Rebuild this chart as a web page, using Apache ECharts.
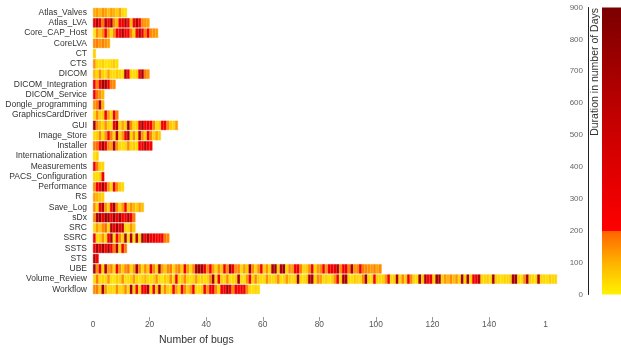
<!DOCTYPE html>
<html>
<head>
<meta charset="utf-8">
<script src="https://cdn.jsdelivr.net/npm/echarts@6/dist/echarts.min.js"></script>
<style>
  html, body { margin: 0; padding: 0; background: #fff; }
  #chart { width: 621px; height: 347px; }
</style>
</head>
<body>
<div id="chart"></div>
<script>
// components, top to bottom
const categories = [
  'Atlas_Valves', 'Atlas_LVA', 'Core_CAP_Host', 'CoreLVA', 'CT', 'CTS', 'DICOM',
  'DICOM_Integration', 'DICOM_Service', 'Dongle_programming', 'GraphicsCardDriver',
  'GUI', 'Image_Store', 'Installer', 'Internationalization', 'Measurements',
  'PACS_Configuration', 'Performance', 'RS', 'Save_Log', 'sDx', 'SRC', 'SSRC',
  'SSTS', 'STS', 'UBE', 'Volume_Review', 'Workflow'
];

// duration (days) of every bug, in the order they are drawn
const atlasValves = [110, 130, 90, 140, 120, 80, 130, 100, 60, 120, 40, 30];
const atlasLVA = [300, 650, 280, 170, 600, 260, 700, 150, 90, 240, 300, 620, 250, 80, 220, 640, 270, 160, 140, 120];
const coreCAPHost = [20, 150, 80, 140, 260, 130, 40, 150, 300, 250, 650, 280, 230, 160, 50, 260, 620, 300, 170, 240, 150, 140, 130];
const coreLVA = [150, 170, 130, 160, 140, 120];
const ct = [60];
const cts = [140, 40, 30, 50, 20, 30, 40, 60, 30];
const dicom = [90, 40, 150, 50, 30, 120, 40, 30, 60, 40, 30, 650, 260, 40, 30, 50, 280, 700, 170, 130];
const dicomIntegration = [280, 160, 240, 700, 650, 300, 170, 150];
const dicomService = [280, 180, 140, 90];
const dongleProgramming = [140, 170, 600, 90];
const graphicsCardDriver = [40, 150, 50, 60, 260, 130, 40, 280, 160];
const gui = [700, 150, 90, 40, 140, 60, 30, 280, 650, 40, 120, 60, 720, 150, 40, 50, 300, 680, 260, 300, 250, 160, 40, 60, 280, 260, 150, 60, 50, 130];
const imageStore = [40, 50, 150, 30, 140, 280, 160, 40, 620, 50, 130, 260, 680, 40, 150, 30, 650, 140, 50, 270, 160, 40, 120, 60];
const installer = [170, 190, 260, 700, 300, 150, 130, 650, 140, 40, 30, 50, 150, 40, 60, 30, 280, 300, 620, 260, 250];
const internationalization = [30, 50];
const measurements = [280, 170, 50, 40];
const pacsConfiguration = [40, 30, 60, 260];
const performance = [150, 280, 300, 700, 260, 140, 40, 280, 150, 60, 40];
const rs = [120, 100, 70, 50];
const saveLog = [150, 40, 260, 620, 140, 50, 280, 700, 160, 40, 130, 270, 60, 140, 90, 50, 120, 80];
const sdx = [160, 700, 680, 300, 720, 650, 290, 700, 320, 680, 300, 270, 650, 250, 170];
const src = [40, 130, 60, 150, 190, 40, 650, 280, 700, 300, 620, 50, 40, 140, 60];
const ssrc = [260, 40, 50, 140, 30, 280, 680, 40, 260, 150, 50, 700, 40, 650, 30, 620, 40, 700, 300, 650, 280, 320, 260, 300, 250, 170, 150];
const ssts = [280, 680, 300, 700, 260, 650, 290, 170, 620, 40, 280, 170];
const sts = [650, 300];
const ube = [
  700, 150, 280, 40, 650, 130, 160, 40, 270, 140,
  60, 150, 180, 40, 130, 720, 160, 40, 150, 60,
  300, 150, 40, 680, 130, 60, 150, 170, 40, 140,
  160, 50, 280, 130, 40, 150, 700, 720, 680, 300,
  150, 260, 130, 40, 150, 60, 290, 150, 700, 280,
  140, 160, 40, 130, 60, 700, 150, 40, 140, 280,
  50, 140, 40, 680, 700, 60, 650, 720, 40, 150,
  130, 300, 280, 160, 40, 60, 150, 290, 40, 130,
  150, 280, 140, 300, 260, 320, 650, 150, 280, 300,
  160, 680, 140, 150, 280, 170, 150, 140, 130, 160, 120, 150
];
const volumeReview = [
  40, 170, 30, 50, 40, 140, 30, 20, 60, 40,
  150, 30, 40, 50, 130, 40, 30, 60, 90, 40,
  30, 50, 140, 40, 20, 60, 40, 150, 30, 280,
  40, 60, 150, 40, 30, 50, 130, 40, 60, 30,
  50, 150, 700, 40, 280, 60, 40, 150, 30, 40,
  60, 680, 40, 30, 130, 260, 40, 150, 60, 40,
  30, 140, 50, 40, 60, 150, 30, 40, 130, 60,
  40, 50, 720, 40, 30, 60, 650, 700, 40, 150,
  130, 40, 60, 30, 50, 140, 280, 40, 700, 650,
  40, 30, 60, 50, 40, 150, 720, 40, 30, 280,
  60, 40, 50, 130, 290, 40, 60, 680, 40, 150,
  50, 300, 150, 40, 30, 700, 60, 650, 280, 300,
  40, 700, 680, 60, 130, 90, 150, 80, 140, 40,
  700, 50, 680, 40, 280, 300, 620, 50, 40, 60,
  30, 700, 60, 40, 30, 50, 40, 60, 680, 700,
  40, 30, 150, 720, 60, 40, 30, 650, 50, 40,
  30, 60, 40, 50
];
const workflow = [
  150, 170, 60, 700, 130, 40, 50, 30, 150, 40,
  60, 150, 40, 700, 60, 280, 40, 300, 260, 650,
  40, 300, 60, 680, 40, 150, 60, 40, 280, 130,
  40, 280, 150, 60, 130, 300, 40, 30, 60, 280,
  140, 270, 300, 150, 40, 290, 280, 700, 300, 150,
  280, 260, 300, 290, 150, 40, 30, 50, 40
];

const bugDurations = [
  atlasValves, atlasLVA, coreCAPHost, coreLVA, ct, cts, dicom, dicomIntegration,
  dicomService, dongleProgramming, graphicsCardDriver, gui, imageStore, installer,
  internationalization, measurements, pacsConfiguration, performance, rs, saveLog,
  sdx, src, ssrc, ssts, sts, ube, volumeReview, workflow
];

const xTickValues = [0, 20, 40, 60, 80, 100, 120, 140, 160];
const xTickLabels = ['0', '20', '40', '60', '80', '100', '120', '140', '1'];
const durationMax = 900;

// colour scale: yellow -> orange up to 200 days, then red -> dark red
const colorStops = [
  [0, [255, 242, 0]],
  [100, [255, 178, 0]],
  [199.99, [255, 98, 0]],
  [200, [255, 0, 0]],
  [550, [196, 0, 0]],
  [900, [122, 0, 0]]
];
function toRgb(c) { return 'rgb(' + c.join(',') + ')'; }
function durationColor(d) {
  for (let i = 1; i < colorStops.length; i++) {
    const [v0, c0] = colorStops[i - 1];
    const [v1, c1] = colorStops[i];
    if (d <= v1) {
      const t = (d - v0) / (v1 - v0);
      return toRgb(c0.map((c, j) => Math.round(c + (c1[j] - c) * t)));
    }
  }
  return toRgb(colorStops[colorStops.length - 1][1]);
}

const chart = echarts.init(document.getElementById('chart'));

const maxBugs = Math.max(...bugDurations.map(l => l.length));
const bugSeries = [];
for (let k = 0; k < maxBugs; k++) {
  bugSeries.push({
    type: 'bar',
    stack: 'bugs',
    barCategoryGap: '9%',
    silent: true,
    clip: false,
    data: bugDurations.map(list => {
      if (k >= list.length) return '-';
      const col = durationColor(list[k]);
      return { value: 1, itemStyle: { color: col, borderColor: col, borderWidth: 0.4 } };
    })
  });
}

const option = {
  animation: false,
  grid: [
    { left: 93, top: 7.5, width: 464, height: 287 },
    { left: 602, top: 7.5, right: 0, height: 287 }
  ],
  xAxis: [
    {
      type: 'value',
      min: 0,
      max: 164,
      offset: 22.5,
      axisLine: { show: false },
      axisTick: { show: true, length: 4, customValues: [20, 40, 60, 80, 100, 120, 140], lineStyle: { color: '#999' } },
      axisLabel: {
        customValues: xTickValues,
        formatter: v => xTickLabels[xTickValues.indexOf(v)],
        color: '#555', fontSize: 8.4, fontFamily: 'Liberation Sans', margin: 4
      },
      splitLine: { show: false }
    },
    { type: 'category', gridIndex: 1, data: [''], show: false }
  ],
  yAxis: [
    {
      type: 'category',
      data: categories,
      inverse: true,
      axisLine: { show: false },
      axisTick: { show: false },
      axisLabel: { interval: 0, color: '#333', fontSize: 8.5, fontFamily: 'Liberation Sans', margin: 6 }
    },
    {
      type: 'value',
      gridIndex: 1,
      min: 0,
      max: durationMax,
      interval: 100,
      position: 'left',
      offset: 14,
      axisLine: { show: true, lineStyle: { color: '#222', width: 1 } },
      axisTick: { show: false },
      axisLabel: { color: '#666', fontSize: 8, fontFamily: 'Liberation Sans', margin: 5 },
      splitLine: { show: false }
    }
  ],
  graphic: [
    {
      type: 'text', x: 159, y: 340,
      style: { text: 'Number of bugs', fill: '#333', fontSize: 10.5, fontFamily: 'Liberation Sans', align: 'left', verticalAlign: 'middle' }
    },
    {
      type: 'text', x: 595, y: 8, rotation: Math.PI / 2,
      style: { text: 'Duration in number of Days', fill: '#333', fontSize: 10.5, fontFamily: 'Liberation Sans', align: 'right', verticalAlign: 'middle' }
    }
  ],
  series: bugSeries.concat([{
    type: 'bar',
    xAxisIndex: 1,
    yAxisIndex: 1,
    barWidth: '100%',
    silent: true,
    data: [durationMax],
    itemStyle: {
      color: new echarts.graphic.LinearGradient(0, 1, 0, 0,
        colorStops.map(s => ({ offset: s[0] / durationMax, color: toRgb(s[1]) })))
    }
  }])
};

chart.setOption(option);
</script>
</body>
</html>
